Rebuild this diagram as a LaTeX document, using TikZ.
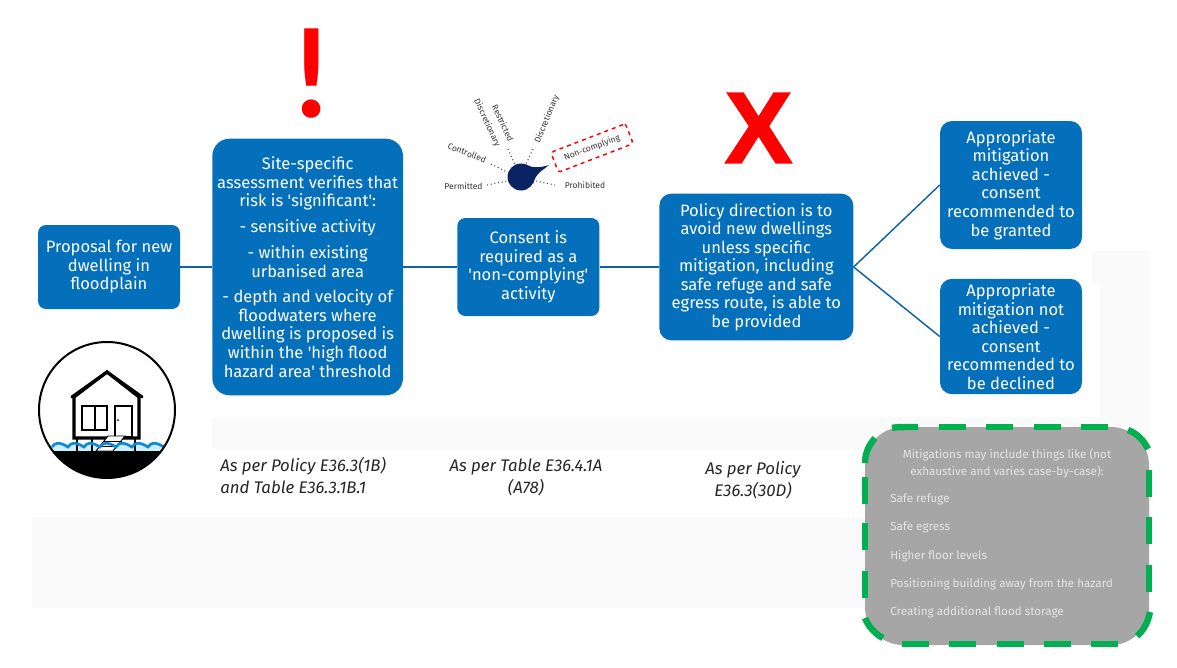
\documentclass[tikz,border=0pt]{standalone}
\usepackage{fontspec}
\setmainfont{Fira Sans}
\newfontfamily\markfont[FakeBold=1.6]{Liberation Sans}
\newfontfamily\bangfont{Lato}
\usetikzlibrary{positioning, shapes.geometric}
\definecolor{stepblue}{HTML}{0470BB}
\definecolor{linkblue}{HTML}{0F62A6}
\definecolor{navyblob}{HTML}{0A2463}
\definecolor{notegrey}{HTML}{A6A6A6}
\definecolor{notegreen}{HTML}{00B050}
\definecolor{faintgrey}{HTML}{FAFAFA}
\newcommand{\apos}{\textquotesingle}
\tikzstyle{block}=[fill=stepblue,rectangle,rounded corners=6pt,text=white,align=center,inner sep=0pt,font=\fontsize{12.4}{13.9}\selectfont]
\tikzstyle{link}=[draw=linkblue,line width=1.1pt]
\tikzstyle{caption}=[font=\fontsize{12.6}{16.5}\selectfont\itshape,text=black!85,inner sep=0pt]
\tikzstyle{gaugetext}=[font=\fontsize{6.4}{7}\selectfont,text=black!80]
\tikzstyle{tick}=[draw=black!70,line width=.8pt,dotted]
\tikzstyle{notetext}=[font=\fontsize{8.75}{12.75}\selectfont,text=white!90!black,inner sep=0pt]
\tikzstyle{greendash}=[draw=notegreen,line width=4.8pt]

\begin{document}
\begin{tikzpicture}[x=.75pt,y=-.75pt]
  \useasboundingbox (0,0) rectangle (1177,667);
  \fill[faintgrey] (32,517) rectangle (865,608);
  \fill[faintgrey] (212,417) rectangle (1150,450);
  \fill[faintgrey] (1092,251) -- (1150,251) -- (1150,520) -- (1100,520) -- (1100,285) -- (1092,285) -- cycle;

  \node[block, minimum width=106.5pt, minimum height=63pt] (proposal) at (109,267) {Proposal for new\\dwelling in\\floodplain};
  \node[block, right of=proposal, node distance=149pt, minimum width=143pt, minimum height=192.5pt, rounded corners=13pt] (site) {Site-specific\\assessment verifies that\\risk is \apos significant\apos:\\[5.5pt]- sensitive activity\\[5.5pt]- within existing\\urbanised area\\[5.5pt]- depth and velocity of\\floodwaters where\\dwelling is proposed is\\within the \apos high flood\\hazard area\apos{} threshold};
  \node[block, right of=site, node distance=165.5pt, minimum width=106.5pt, minimum height=73.5pt] (consent) {Consent is\\required as a\\\apos non-complying\apos\\activity};
  \node[block, right of=consent, node distance=171pt, minimum width=145.5pt, minimum height=110pt, rounded corners=9pt] (policy) {Policy direction is to\\avoid new dwellings\\unless specific\\mitigation, including\\safe refuge and safe\\egress route, is able to\\be provided};
  \node[block, minimum width=106.5pt, minimum height=96pt, rounded corners=9pt] (granted) at (1011,185) {Appropriate\\mitigation\\achieved -\\consent\\recommended to\\be granted};
  \node[block, minimum width=106.5pt, minimum height=86.5pt, rounded corners=9pt] (declined) at (1011,336.5) {Appropriate\\mitigation not\\achieved -\\consent\\recommended to\\be declined};

  \draw[link] (proposal) -- (site);
  \draw[link] (site) -- (consent);
  \draw[link] (consent) -- (policy);
  \draw[link] (policy.east) -- (granted.west);
  \draw[link] (policy.east) -- (declined.west);

  \node[text=red, font=\fontsize{92}{92}\selectfont\bfseries\bangfont, inner sep=0pt] (warn) at (312,73.5) {!};
  \node[text=red, font=\fontsize{76}{76}\selectfont\bfseries\markfont, inner sep=0pt] (cross) at (758.5,128) {X};

  \node[caption, align=left, anchor=north west] (capa) at (220,457) {As per Policy E36.3(1B)\\and Table E36.3.1B.1};
  \node[caption, align=center, anchor=north] (capb) at (526,458.5) {As per Table E36.4.1A\\(A78)};
  \node[caption, align=center, anchor=north] (capc) at (753,461) {As per Policy\\E36.3(30D)};

  % gauge
  \fill[navyblob] (521,177) circle (13.5);
  \fill[navyblob] (527,165) .. controls (532,168) and (540,168) .. (549,165) .. controls (544,170) and (536,172) .. (533,184) -- cycle;
  \node[gaugetext] (permitted) at (463.5,186) {Permitted};
  \node[gaugetext, rotate=-22] (controlled) at (467,153) {Controlled};
  \node[gaugetext, rotate=-65] (discleft) at (487,123) {Discretionary};
  \node[gaugetext, rotate=-65] (restricted) at (503,123) {Restricted};
  \node[gaugetext, rotate=68] (discright) at (547,119) {Discretionary};
  \node[gaugetext] (prohibited) at (585,185) {Prohibited};
  \node[gaugetext, rotate=21, draw=red, dashed, line width=1.1pt, rounded corners=2pt, minimum width=60pt, minimum height=16pt, inner sep=0pt] (noncomp) at (592,148) {Non-complying};
  \draw[tick] (487,185) -- (507,181);
  \draw[tick] (491,164) -- (507,172);
  \draw[tick] (508,149) -- (515,165);
  \draw[tick] (533,149) -- (526,164);
  \draw[tick] (536,181) -- (555,185);

  % house
  \begin{scope}
    \clip (107,410) circle (68);
    \fill[black] (30,451) rectangle (185,490);
    \fill[cyan!20!white] (30,445) rectangle (185,451);
  \end{scope}
  \foreach \px in {77,92,107,135}
    \draw[black, line width=2.2pt] (\px,438) -- (\px,451);
  \draw[black, line width=2.4pt, fill=white] (74,438) -- (74,397) -- (107,372) -- (139,397) -- (139,438) -- cycle;
  \draw[black, line width=2.4pt, line cap=round] (72,397) -- (107,372) -- (142,397);
  \draw[black, line width=1.2pt] (82,406) rectangle (107,430);
  \draw[black, line width=1.2pt] (95,406) -- (95,430);
  \draw[black, line width=1.2pt] (115,406) rectangle (132,437);
  \fill[black] (118,420) circle (1);
  \draw[black, line width=.7pt, fill=white] (96,451) -- (108,436) -- (125,436) -- (113,451) -- cycle;
  \draw[black, line width=.7pt] (100,446) -- (118,446) (104,441) -- (122,441);
  \draw[cyan!70!blue, line width=2pt] (52,447) \foreach \wv in {0,1,2,3,4,5,6} {.. controls (55+16*\wv,442) and (60+16*\wv,442) .. (68+16*\wv,447)};
  \draw[black, line width=1.5pt] (107,410) circle (68);

  % mitigations
  \node[fill=notegrey, rounded corners=28.5pt, minimum width=213pt, minimum height=163.5pt, inner sep=0pt] (note) at (1007,536) {};
  \foreach \dx in {939,986,1034,1081}
    \draw[greendash] (\dx,427) -- ++(27,0);
  \foreach \dx in {902,949,997,1044,1091}
    \draw[greendash] (\dx,644) -- ++(27,0);
  \foreach \dy in {470,517,565}
    \draw[greendash] (1149,\dy) -- ++(0,27);
  \foreach \dy in {477,523,571}
    \draw[greendash] (865,\dy) -- ++(0,27);
  \draw[greendash] (892,428) .. controls (896,427) and (900,427) .. (918,427);
  \draw[greendash] (1128,430) .. controls (1138,434) and (1144,441) .. (1148,449);
  \draw[greendash] (1150,612) .. controls (1148,622) and (1144,630) .. (1137,636);
  \draw[greendash] (883,638) .. controls (875,634) and (868,626) .. (865,618);
  \draw[greendash] (865,463) .. controls (865,453) and (869,445) .. (875,438);
  \node[notetext, align=center] (notehead) at (1007,463.5) {Mitigations may include things like (not\\exhaustive and varies case-by-case):};
  \node[notetext, anchor=west] (itema) at (890,499.5) {Safe refuge};
  \node[notetext, below=21.1pt of itema.west, anchor=west] (itemb) {Safe egress};
  \node[notetext, below=21.1pt of itemb.west, anchor=west] (itemc) {Higher floor levels};
  \node[notetext, below=21.1pt of itemc.west, anchor=west] (itemd) {Positioning building away from the hazard};
  \node[notetext, below=21.1pt of itemd.west, anchor=west] (iteme) {Creating additional flood storage};
\end{tikzpicture}
\end{document}
